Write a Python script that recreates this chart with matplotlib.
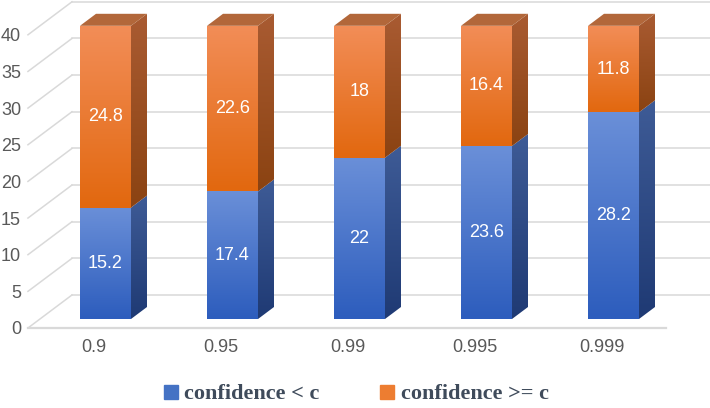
import numpy as np
import matplotlib
matplotlib.use("Agg")
import matplotlib.pyplot as plt
from matplotlib.patches import Polygon
from matplotlib.colors import to_rgb
from matplotlib.lines import Line2D

# ---- data ----
categories = ["0.9", "0.95", "0.99", "0.995", "0.999"]
below = [15.2, 17.4, 22, 23.6, 28.2]      # confidence < c
above = [24.8, 22.6, 18, 16.4, 11.8]      # confidence >= c
series_names = ["confidence < c", "confidence >= c"]
yticks = [0, 5, 10, 15, 20, 25, 30, 35, 40]

# ---- geometry (pixels) ----
W, H, DPI = 710, 408, 100
x0_px, sx = 94.0, 127.0        # category 0 position, px per category
y0_px, sy = 328.0, 7.33        # y=0 (from top), px per unit
xl_d, xr_front = -0.52, 4.50   # front floor extent (data)
xlim = (-0.52, 4.85)
ylim = (0, 44.7)

fig = plt.figure(figsize=(W / DPI, H / DPI), dpi=DPI)
left_px = x0_px + xlim[0] * sx
right_px = x0_px + xlim[1] * sx
top_px = y0_px - ylim[1] * sy
ax = fig.add_axes([left_px / W, (H - y0_px) / H, (right_px - left_px) / W, (y0_px - top_px) / H])
ax.set_xlim(*xlim)
ax.set_ylim(*ylim)
for s in ax.spines.values():
    s.set_visible(False)

def px2d(dx, dy):
    return dx / sx, dy / sy

grid_c = "#D9D9D9"
glw = 1.1
# walls
wdx, wdy = px2d(44, 33)
for v in yticks:
    ax.plot([xl_d, xl_d + wdx], [v, v + wdy], color=grid_c, lw=glw, zorder=1, clip_on=False)
    ax.plot([xl_d + wdx, xr_front + wdx], [v + wdy, v + wdy], color=grid_c, lw=glw, zorder=1, clip_on=False)
ax.plot([xl_d, xr_front], [0, 0], color=grid_c, lw=1.6, zorder=1, clip_on=False)

# ticks
ax.set_yticks(yticks)
ax.set_yticklabels([str(v) for v in yticks])
ax.set_xticks(range(len(categories)))
ax.set_xticklabels(categories)
ax.tick_params(axis="both", length=0, labelsize=13, labelcolor="#595959")
ax.tick_params(axis="y", pad=5)
ax.tick_params(axis="x", pad=8)
for t in ax.get_xticklabels() + ax.get_yticklabels():
    t.set_family("Liberation Sans")

# ---- bars ----
bdx, bdy = px2d(11.5, 9)      # bar plane offset
ddx, ddy = px2d(16, 12)       # bar depth
bw = 51 / sx

def grad_poly(verts, ctop, cbot, z):
    verts = np.asarray(verts)
    poly = Polygon(verts, closed=True, facecolor="none", edgecolor="none", zorder=z)
    ax.add_patch(poly)
    n = 64
    t = np.linspace(0, 1, n)[:, None]
    ct, cb = np.array(to_rgb(ctop)), np.array(to_rgb(cbot))
    img = (ct * (1 - t) + cb * t)[:, None, :]
    im = ax.imshow(img, extent=(verts[:, 0].min(), verts[:, 0].max(), verts[:, 1].min(), verts[:, 1].max()),
                   aspect="auto", origin="upper", zorder=z, interpolation="bilinear")
    im.set_clip_path(poly)

styles = [
    dict(front=("#6A8FD8", "#2D5DBD"), side=("#3E5B96", "#1F3A74")),
    dict(front=("#F28D57", "#E2680F"), side=("#A95B32", "#8B4312"), top="#B2673A"),
]

for i in range(len(categories)):
    xl = i + bdx - bw / 2
    xr = i + bdx + bw / 2
    base = 0
    segs = [below[i], above[i]]
    for k, val in enumerate(segs):
        y0 = base + bdy
        y1 = base + val + bdy
        st = styles[k]
        grad_poly([(xl, y0), (xr, y0), (xr, y1), (xl, y1)], st["front"][0], st["front"][1], 3)
        grad_poly([(xr, y0), (xr + ddx, y0 + ddy), (xr + ddx, y1 + ddy), (xr, y1)], st["side"][0], st["side"][1], 3)
        if k == len(segs) - 1:
            ax.add_patch(Polygon([(xl, y1), (xr, y1), (xr + ddx, y1 + ddy), (xl + ddx, y1 + ddy)],
                                 closed=True, facecolor=st["top"], edgecolor="none", zorder=3))
        ax.text(i + bdx, (y0 + y1) / 2, f"{val:g}", ha="center", va="center", color="white",
                fontsize=13, family="Liberation Sans", zorder=5)
        base += val

# ---- legend ----
handles = [Line2D([], [], marker="s", linestyle="none", markersize=9.4, markerfacecolor=c, markeredgecolor=c)
           for c in ["#4472C4", "#ED7D31"]]
leg = fig.legend(handles, series_names, loc="center", bbox_to_anchor=(355.5 / W, (H - 394) / H), ncol=2,
                 frameon=False, handlelength=0.8, handletextpad=0.2, columnspacing=2.64,
                 borderpad=0.2, prop=dict(family="Liberation Serif", weight="bold", size=16))
for t in leg.get_texts():
    t.set_color("#3F4B5B")

fig.savefig("out.png", dpi=DPI)
